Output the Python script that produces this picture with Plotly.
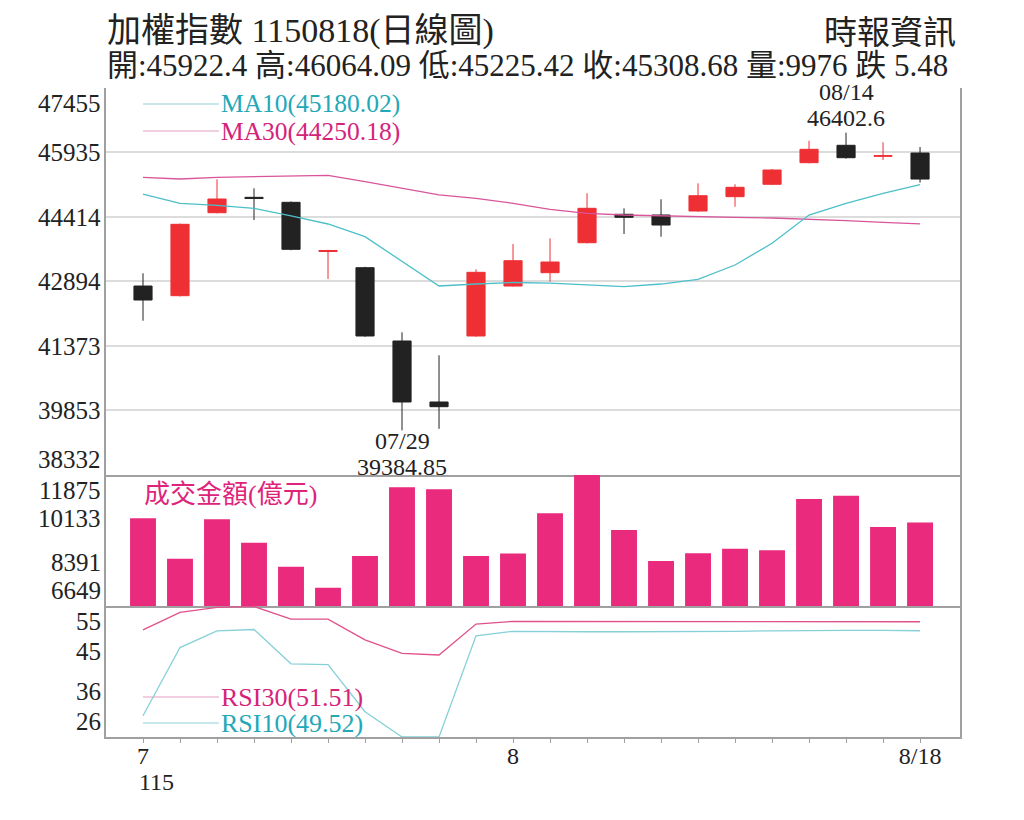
import plotly.graph_objects as go

# trading days shown (ROC 115 = 2026)
dates = ["7/20", "7/21", "7/22", "7/23", "7/24", "7/27", "7/28", "7/29", "7/30", "7/31",
         "8/3", "8/4", "8/5", "8/6", "8/7", "8/10", "8/11", "8/12", "8/13", "8/14",
         "8/17", "8/18"]
date_labels = ["7", "", "", "", "", "", "", "", "", "",
               "8", "", "", "", "", "", "", "", "", "", "", "8/18"]

open_ = [42787, 42559, 44515, 44878, 44760, 43600, 43219, 41491, 40053, 41609,
         42787, 43101, 43808, 44478, 44461, 44555, 44893, 45185, 45694, 46104,
         45845, 45922.4]
high = [43087, 44260, 45303, 45090, 44780, 43640, 43240, 41696, 41154, 43180,
        43777, 43912, 44973, 44619, 44831, 45208, 45185, 45545, 46213, 46402.6,
        46175, 46064.09]
low = [41969, 42540, 44500, 44343, 43630, 42952, 41590, 39384.85, 39420, 41590,
       42770, 42889, 43790, 44013, 43950, 44540, 44657, 45170, 45680, 45790,
       45758, 45225.42]
close = [42457, 44242, 44838, 44850, 43652, 43625, 41609, 40053, 39942, 43110,
         43384, 43353, 44619, 44407, 44225, 44916, 45114, 45522, 46010, 45812,
         45860, 45308.68]

ma10 = [44956, 44737, 44690, 44619, 44438, 44249, 43950, 43360, 42787, 42834,
        42870, 42855, 42811, 42771, 42834, 42945, 43282, 43794, 44461, 44737,
        44973, 45180.02]
ma30 = [45350, 45310, 45350, 45364, 45388, 45397, 45246, 45091, 44933, 44855,
        44737, 44595, 44501, 44461, 44438, 44421, 44407, 44390, 44367, 44327,
        44289, 44250.18]

turnover = [10148, 8536, 10108, 9174, 8217, 7379, 8644, 11384, 11305, 8644,
            8744, 10347, 11875, 9681, 8444, 8752, 8935, 8871, 10918, 11049,
            9801, 9976]

rsi30 = [49.7, 53.6, 54.7, 54.9, 52.1, 52.1, 47.5, 44.5, 44.15, 51.0,
         51.6, 51.6, 51.6, 51.6, 51.6, 51.5, 51.5, 51.5, 51.5, 51.5,
         51.5, 51.51]
rsi10 = [30.7, 45.8, 49.5, 49.8, 42.2, 42.0, 31.6, 26.0, 26.0, 48.4,
         49.4, 49.3, 49.3, 49.3, 49.3, 49.4, 49.4, 49.5, 49.6, 49.6,
         49.6, 49.52]

price_ticks = [47455, 45935, 44414, 42894, 41373, 39853, 38332]
vol_ticks = [11875, 10133, 8391, 6649]
rsi_ticks = [55, 45, 36, 26]

SERIF = "Liberation Serif, Noto Sans CJK TC, serif"
RED = "#ee3035"
BLACK = "#222222"
PINK = "#ea2a7d"
CYAN = "#4dbfc9"
MAGENTA = "#d8559a"
GRID = "#dcdcdc"
AXIS = "#a0a0a0"

fig = go.Figure()

fig.add_trace(go.Candlestick(
    x=dates, open=open_, high=high, low=low, close=close,
    increasing=dict(line=dict(color=RED, width=1), fillcolor=RED),
    decreasing=dict(line=dict(color=BLACK, width=1), fillcolor=BLACK),
    whiskerwidth=0, xaxis="x", yaxis="y", showlegend=False))
fig.add_trace(go.Scatter(x=dates, y=ma30, mode="lines", line=dict(color=MAGENTA, width=1.3),
                         xaxis="x", yaxis="y", showlegend=False))
fig.add_trace(go.Scatter(x=dates, y=ma10, mode="lines", line=dict(color=CYAN, width=1.3),
                         xaxis="x", yaxis="y", showlegend=False))

fig.add_trace(go.Bar(x=dates, y=turnover, width=0.7, marker=dict(color=PINK, line=dict(width=0)),
                     xaxis="x2", yaxis="y2", showlegend=False))

fig.add_trace(go.Scatter(x=dates, y=rsi30, mode="lines", line=dict(color="#e0508a", width=1.3),
                         xaxis="x3", yaxis="y3", showlegend=False))
fig.add_trace(go.Scatter(x=dates, y=rsi10, mode="lines", line=dict(color="#86d0d8", width=1.3),
                         xaxis="x3", yaxis="y3", showlegend=False))

# the page puts the plot 8px in from the top-left corner
OFF = 8
W, H = 1024 - OFF, 820 - OFF
L, R = 106, 960
def px(x):
    return (x - OFF) / W
def py(y):
    return 1 - (y - OFF) / H

xr = [-1, 22.08]
xcommon = dict(type="category", range=xr, domain=[px(L), px(R)], showgrid=False,
               zeroline=False, fixedrange=True)
fig.update_layout(
    width=W, height=H, margin=dict(l=0, r=0, t=0, b=0),
    paper_bgcolor="white", plot_bgcolor="white",
    font=dict(family=SERIF, color="#222", size=24),
    bargap=0.3,
    xaxis=dict(**xcommon, anchor="y", showticklabels=False, rangeslider=dict(visible=False),
               showline=True, linecolor=AXIS, linewidth=2),
    xaxis2=dict(**xcommon, anchor="y2", matches="x", showticklabels=False,
                showline=True, linecolor=AXIS, linewidth=2),
    xaxis3=dict(**xcommon, anchor="y3", matches="x", showline=True, linecolor=AXIS, linewidth=2,
                tickmode="array", tickvals=dates, ticktext=date_labels,
                ticks="outside", ticklen=4, tickcolor=AXIS, ticklabelstandoff=-8,
                tickfont=dict(size=24, family=SERIF, color="#222")),
    yaxis=dict(domain=[py(475), py(88)], range=[price_ticks[-1], price_ticks[0]],
               tickvals=price_ticks, showticklabels=False, showgrid=True, gridcolor=GRID,
               gridwidth=2, zeroline=False, showline=True, linecolor=AXIS, linewidth=2,
               mirror=True, fixedrange=True),
    yaxis2=dict(domain=[py(606), py(475)], range=[vol_ticks[-1], vol_ticks[0]],
                tickvals=vol_ticks, showticklabels=False, showgrid=False, zeroline=False,
                showline=True, linecolor=AXIS, linewidth=2, mirror=True, fixedrange=True),
    yaxis3=dict(domain=[py(737), py(606)], range=[rsi_ticks[-1], rsi_ticks[0]],
                tickvals=rsi_ticks, showticklabels=False, showgrid=False, zeroline=False,
                showline=True, linecolor=AXIS, linewidth=2, mirror=True, fixedrange=True),
)

ann = []
# header
ann.append(dict(text="加權指數 1150818(日線圖)", x=px(105), y=py(31), xref="paper", yref="paper",
                xanchor="left", yanchor="middle", showarrow=False, font=dict(size=34)))
ann.append(dict(text="時報資訊", x=px(958), y=py(33), xref="paper", yref="paper",
                xanchor="right", yanchor="middle", showarrow=False, font=dict(size=33)))
ann.append(dict(text="開:45922.4 高:46064.09 低:45225.42 收:45308.68 量:9976 跌 5.48",
                x=px(105), y=py(66), xref="paper", yref="paper",
                xanchor="left", yanchor="middle", showarrow=False, font=dict(size=31)))

# y tick labels, edge ones pushed inside the panel
def axis_labels(vals, yref):
    for i, v in enumerate(vals):
        anchor = "top" if i == 0 else ("bottom" if i == len(vals) - 1 else "middle")
        ann.append(dict(text=str(v), x=px(103), y=v, xref="paper", yref=yref,
                        xanchor="right", yanchor=anchor, showarrow=False,
                        font=dict(size=25)))
axis_labels(price_ticks, "y")
axis_labels(vol_ticks, "y2")
axis_labels(rsi_ticks, "y3")

ann.append(dict(text="115", x=dates[0], xref="x3", xanchor="left", xshift=-6,
                y=py(782), yref="paper", yanchor="middle", showarrow=False, font=dict(size=24)))

# extreme markers
lo_i = low.index(min(low))
hi_i = high.index(max(high))
for txt, shift in (("07/29", -11), (f"{low[lo_i]:.2f}", -37)):
    ann.append(dict(text=txt, x=dates[lo_i], y=low[lo_i], xref="x", yref="y",
                    yanchor="middle", yshift=shift, showarrow=False, font=dict(size=24)))
for txt, shift in (("08/14", 41), (f"{high[hi_i]:.1f}", 15)):
    ann.append(dict(text=txt, x=dates[hi_i], y=high[hi_i], xref="x", yref="y",
                    yanchor="middle", yshift=shift, showarrow=False, font=dict(size=24)))

# legends
def legend_item(label, color, line_color, y, size):
    fig.add_shape(type="line", xref="paper", yref="paper", x0=px(143), x1=px(219),
                  y0=py(y), y1=py(y), line=dict(color=line_color, width=1.2))
    ann.append(dict(text=label, x=px(219), y=py(y), xref="paper", yref="paper",
                    xanchor="left", yanchor="middle", showarrow=False,
                    font=dict(size=size, color=color)))
legend_item(f"MA10({ma10[-1]:.2f})", "#23a8b8", "#8fd3da", 104, 25.5)
legend_item(f"MA30({ma30[-1]:.2f})", "#d4247a", "#e3a0c2", 131, 25.5)
legend_item(f"RSI30({rsi30[-1]:.2f})", "#d4247a", "#e3a0c2", 697, 26)
legend_item(f"RSI10({rsi10[-1]:.2f})", "#23a8b8", "#8fd3da", 723, 26)

ann.append(dict(text="成交金額(億元)", x=px(142), y=py(494), xref="paper", yref="paper",
                xanchor="left", yanchor="middle", showarrow=False,
                font=dict(size=26, color="#e0237a")))

fig.update_layout(annotations=ann)
fig.write_html("out.html")
